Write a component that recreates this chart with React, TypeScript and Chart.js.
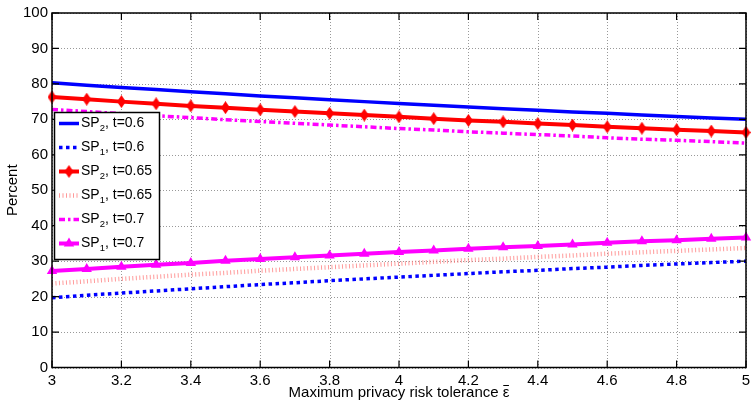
import React, { useEffect, useRef } from 'react';
import { Chart, registerables } from 'chart.js';

Chart.register(...registerables);

// ---- data ----
const xValues = [3.0, 3.1, 3.2, 3.3, 3.4, 3.5, 3.6, 3.7, 3.8, 3.9, 4.0, 4.1, 4.2, 4.3, 4.4, 4.5, 4.6, 4.7, 4.8, 4.9, 5.0];
const xTickValues = [3, 3.2, 3.4, 3.6, 3.8, 4, 4.2, 4.4, 4.6, 4.8, 5];
const xTickLabels = ['3', '3.2', '3.4', '3.6', '3.8', '4', '4.2', '4.4', '4.6', '4.8', '5'];
const yTickValues = [0, 10, 20, 30, 40, 50, 60, 70, 80, 90, 100];
const yTickLabels = ['0', '10', '20', '30', '40', '50', '60', '70', '80', '90', '100'];

const sp2_t060 = [80.3, 79.6, 79.0, 78.4, 77.8, 77.2, 76.6, 76.1, 75.5, 75.0, 74.5, 74.0, 73.5, 73.0, 72.6, 72.1, 71.7, 71.2, 70.8, 70.4, 70.0];
const sp1_t060 = [19.7, 20.4, 21.0, 21.6, 22.2, 22.8, 23.4, 23.9, 24.5, 25.0, 25.5, 26.0, 26.5, 27.0, 27.4, 27.9, 28.3, 28.8, 29.2, 29.6, 30.0];
const sp2_t065 = [76.3, 75.7, 75.0, 74.4, 73.8, 73.3, 72.7, 72.2, 71.7, 71.2, 70.7, 70.2, 69.7, 69.3, 68.8, 68.4, 67.9, 67.5, 67.1, 66.7, 66.3];
const sp1_t065 = [23.7, 24.3, 25.0, 25.6, 26.2, 26.7, 27.3, 27.8, 28.3, 28.8, 29.3, 29.8, 30.3, 30.7, 31.2, 31.6, 32.1, 32.5, 32.9, 33.3, 33.7];
const sp2_t070 = [72.8, 72.2, 71.6, 71.0, 70.5, 69.9, 69.4, 68.9, 68.4, 67.9, 67.4, 67.0, 66.5, 66.1, 65.7, 65.3, 64.8, 64.4, 64.1, 63.7, 63.3];
const sp1_t070 = [27.2, 27.8, 28.4, 29.0, 29.5, 30.1, 30.6, 31.1, 31.6, 32.1, 32.6, 33.0, 33.5, 33.9, 34.3, 34.7, 35.2, 35.6, 35.9, 36.3, 36.7];

const seriesNames = ['SP', 'SP', 'SP', 'SP', 'SP', 'SP'];
const seriesSubs = ['2', '1', '2', '1', '2', '1'];
const seriesTails = [', t=0.6', ', t=0.6', ', t=0.65', ', t=0.65', ', t=0.7', ', t=0.7'];

const xTitleMain = 'Maximum privacy risk tolerance ';
const xTitleSymbol = '\u03B5\u0304';
const yTitle = 'Percent';

const FONT = "'Liberation Sans Narrow', 'Arial Narrow', 'Liberation Sans', Arial, sans-serif";

function makeDiamond(color: string) {
  const c = document.createElement('canvas');
  c.width = 9;
  c.height = 13;
  const g = c.getContext('2d')!;
  g.fillStyle = color;
  g.beginPath();
  g.moveTo(4.5, 0);
  g.lineTo(9, 6.5);
  g.lineTo(4.5, 13);
  g.lineTo(0, 6.5);
  g.closePath();
  g.fill();
  return c;
}

export default function App() {
  const ref = useRef<HTMLCanvasElement | null>(null);

  useEffect(() => {
    const canvas = ref.current;
    if (!canvas) return;
    const diamond = makeDiamond('#ff0000');

    const pts = (arr: number[]) => xValues.map((x, i) => ({ x, y: arr[i] }));

    const datasets: any[] = [
      { data: pts(sp2_t060), borderColor: '#0000ff', borderWidth: 3.5, pointRadius: 0 },
      { data: pts(sp1_t060), borderColor: '#0000ff', borderWidth: 3.5, borderDash: [3.5, 3.5], pointRadius: 0 },
      { data: pts(sp2_t065), borderColor: '#ff0000', borderWidth: 4, pointStyle: diamond, pointRadius: 5, backgroundColor: '#ff0000' },
      { data: pts(sp1_t065), borderColor: 'rgba(255,120,120,0.75)', borderWidth: 4.5, borderDash: [1, 2.5], pointRadius: 0 },
      { data: pts(sp2_t070), borderColor: '#ff00ff', borderWidth: 3.5, borderDash: [6, 3, 2.5, 3], pointRadius: 0 },
      { data: pts(sp1_t070), borderColor: '#ff00ff', borderWidth: 4, pointStyle: 'triangle', pointRadius: 6, backgroundColor: '#ff00ff', pointBorderWidth: 0 },
    ].map((d, i) => ({
      label: seriesNames[i] + seriesSubs[i] + seriesTails[i],
      fill: false,
      tension: 0,
      clip: false,
      pointHoverRadius: 0,
      ...d,
    }));

    const framePlugin = {
      id: 'matlabFrame',
      beforeDatasetsDraw(chart: any) {
        const { ctx, chartArea: a, scales } = chart;
        const x = scales.x;
        const y = scales.y;
        ctx.save();
        ctx.strokeStyle = 'rgba(0,0,0,0.4)';
        ctx.lineWidth = 1;
        ctx.setLineDash([1, 2]);
        x.ticks.forEach((t: any) => {
          const px = Math.round(x.getPixelForValue(t.value)) + 0.5;
          ctx.beginPath();
          ctx.moveTo(px, a.top);
          ctx.lineTo(px, a.bottom);
          ctx.stroke();
        });
        y.ticks.forEach((t: any) => {
          const py = Math.round(y.getPixelForValue(t.value)) + 0.5;
          ctx.beginPath();
          ctx.moveTo(a.left, py);
          ctx.lineTo(a.right, py);
          ctx.stroke();
        });
        ctx.restore();
      },
      afterDatasetsDraw(chart: any) {
        const { ctx, chartArea: a, scales } = chart;
        const x = scales.x;
        const y = scales.y;
        ctx.save();
        ctx.strokeStyle = '#000';
        ctx.lineWidth = 1.5;
        ctx.setLineDash([]);
        ctx.strokeRect(a.left, a.top, a.right - a.left, a.bottom - a.top);
        const L = 7;
        ctx.lineWidth = 1.2;
        x.ticks.forEach((t: any) => {
          const px = x.getPixelForValue(t.value);
          ctx.beginPath();
          ctx.moveTo(px, a.bottom);
          ctx.lineTo(px, a.bottom - L);
          ctx.moveTo(px, a.top);
          ctx.lineTo(px, a.top + L);
          ctx.stroke();
        });
        y.ticks.forEach((t: any) => {
          const py = y.getPixelForValue(t.value);
          ctx.beginPath();
          ctx.moveTo(a.left, py);
          ctx.lineTo(a.left + L, py);
          ctx.moveTo(a.right, py);
          ctx.lineTo(a.right - L, py);
          ctx.stroke();
        });
        ctx.restore();
      },
      afterDraw(chart: any) {
        const { ctx, chartArea: a } = chart;
        // x-axis title with an overlined epsilon
        ctx.save();
        ctx.fillStyle = '#000';
        ctx.textBaseline = 'middle';
        ctx.textAlign = 'left';
        ctx.font = `15px ${FONT}`;
        const wMain = ctx.measureText(xTitleMain).width;
        ctx.font = `15px ${FONT}`;
        const wEps = ctx.measureText('\u03B5').width;
        const total = wMain + wEps;
        const tx0 = (a.left + a.right) / 2 - total / 2;
        const ty = 393;
        ctx.fillText(xTitleMain, tx0, ty);
        ctx.fillText(xTitleSymbol.charAt(0), tx0 + wMain, ty);
        ctx.strokeStyle = '#000';
        ctx.lineWidth = 1;
        ctx.beginPath();
        ctx.moveTo(tx0 + wMain + 0.5, ty - 7.5);
        ctx.lineTo(tx0 + wMain + wEps - 0.5, ty - 7.5);
        ctx.stroke();
        ctx.restore();

        // legend
        const box = { l: 54.5, t: 112.5, r: 159.5, b: 259.5 };
        ctx.save();
        ctx.fillStyle = '#fff';
        ctx.fillRect(box.l, box.t, box.r - box.l, box.b - box.t);
        ctx.strokeStyle = '#000';
        ctx.lineWidth = 1.5;
        ctx.strokeRect(box.l, box.t, box.r - box.l, box.b - box.t);
        const x0 = 59;
        const x1 = 79;
        chart.data.datasets.forEach((ds: any, i: number) => {
          const cy = 123.5 + i * 24;
          ctx.save();
          ctx.strokeStyle = ds.borderColor;
          ctx.lineWidth = ds.borderWidth;
          ctx.setLineDash(ds.borderDash || []);
          ctx.beginPath();
          ctx.moveTo(x0, cy);
          ctx.lineTo(x1, cy);
          ctx.stroke();
          ctx.restore();
          const cx = (x0 + x1) / 2;
          if (ds.pointStyle && typeof ds.pointStyle !== 'string') {
            ctx.drawImage(ds.pointStyle, cx - ds.pointStyle.width / 2, cy - ds.pointStyle.height / 2);
          } else if (ds.pointStyle === 'triangle') {
            const r = ds.pointRadius;
            ctx.fillStyle = ds.backgroundColor;
            ctx.beginPath();
            ctx.moveTo(cx, cy - r);
            ctx.lineTo(cx + 0.866 * r, cy + 0.5 * r);
            ctx.lineTo(cx - 0.866 * r, cy + 0.5 * r);
            ctx.closePath();
            ctx.fill();
          }
          ctx.fillStyle = '#000';
          ctx.textBaseline = 'middle';
          ctx.textAlign = 'left';
          ctx.font = `14px ${FONT}`;
          let tx = 81;
          ctx.fillText(seriesNames[i], tx, cy);
          tx += ctx.measureText(seriesNames[i]).width;
          ctx.font = `9.5px ${FONT}`;
          ctx.fillText(seriesSubs[i], tx, cy + 5);
          tx += ctx.measureText(seriesSubs[i]).width;
          ctx.font = `14px ${FONT}`;
          ctx.fillText(seriesTails[i], tx, cy);
        });
        ctx.restore();
      },
    };

    const chart = new Chart(canvas, {
      type: 'line',
      data: { datasets },
      options: {
        responsive: false,
        animation: false,
        events: [],
        layout: { padding: { top: 8.5, right: 3, left: 0, bottom: 0 } },
        plugins: {
          legend: { display: false },
          tooltip: { enabled: false },
        },
        scales: {
          x: {
            type: 'linear',
            min: 3,
            max: 5,
            afterBuildTicks: (s: any) => {
              s.ticks = xTickValues.map((v) => ({ value: v }));
            },
            afterFit: (s: any) => {
              s.height = 34.5;
            },
            grid: { display: false, drawTicks: false },
            border: { display: false },
            ticks: {
              color: '#000',
              font: { family: FONT, size: 15 },
              padding: 4,
              maxRotation: 0,
              autoSkip: false,
              callback: (_v: any, i: number) => xTickLabels[i],
            },
            title: { display: false },
          },
          y: {
            type: 'linear',
            min: 0,
            max: 100,
            afterBuildTicks: (s: any) => {
              s.ticks = yTickValues.map((v) => ({ value: v }));
            },
            afterFit: (s: any) => {
              s.width = 52;
            },
            grid: { display: false, drawTicks: false },
            border: { display: false },
            ticks: {
              color: '#000',
              font: { family: FONT, size: 15 },
              padding: 4,
              autoSkip: false,
              callback: (_v: any, i: number) => yTickLabels[i],
            },
            title: {
              display: true,
              text: yTitle,
              color: '#000',
              font: { family: FONT, size: 15 },
              padding: { top: 4, bottom: 0 },
            },
          },
        },
      },
      plugins: [framePlugin],
    } as any);

    return () => chart.destroy();
  }, []);

  return (
    <div style={{ position: 'absolute', left: 0, top: 0, width: 755, height: 402, background: '#fff' }}>
      <canvas ref={ref} width={755} height={402} style={{ display: 'block', width: 755, height: 402 }} />
    </div>
  );
}
